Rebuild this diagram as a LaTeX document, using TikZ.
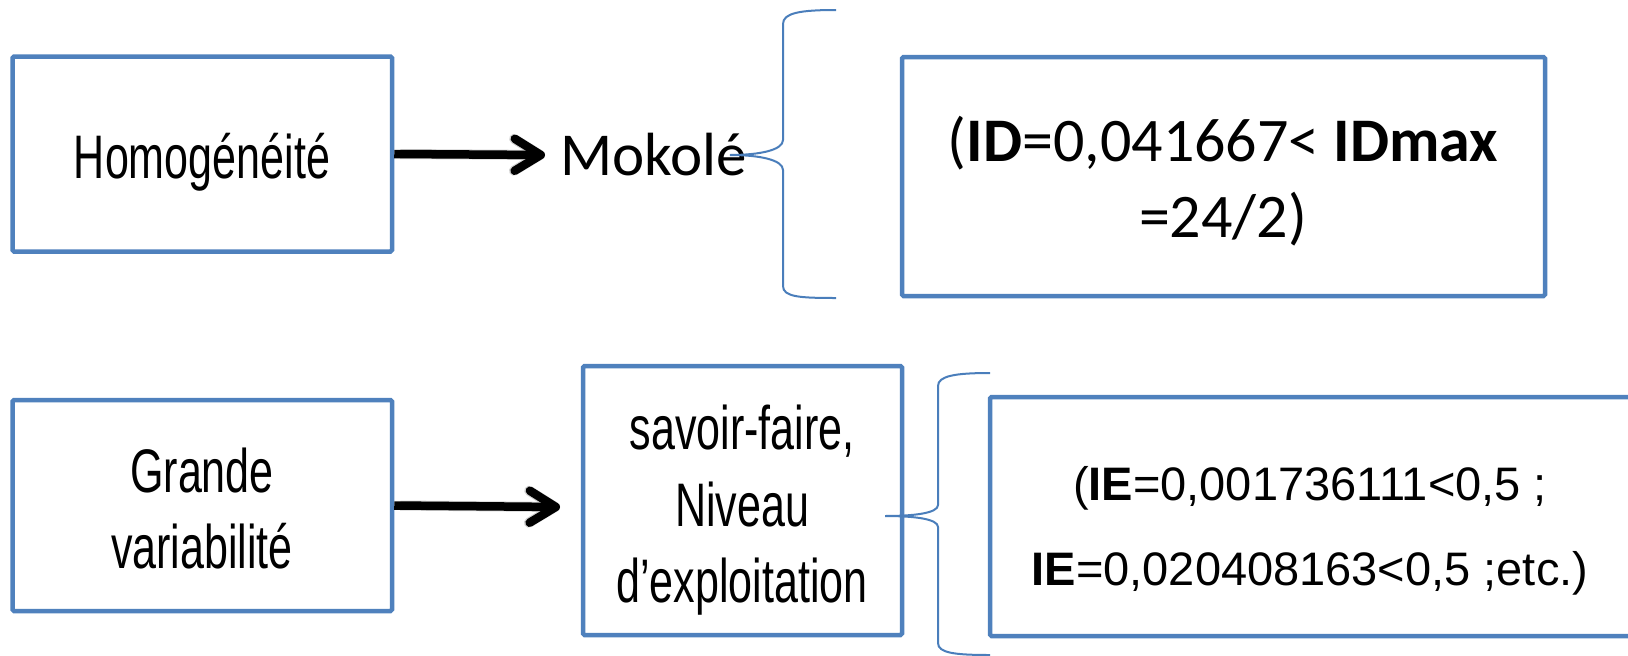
\documentclass[tikz,border=0pt]{standalone}
\usepackage{fontspec}
\usetikzlibrary{arrows.meta}
\newfontfamily\agency[FakeStretch=0.7]{Liberation Sans}
\newfontfamily\calib{Carlito}
\newfontfamily\arialf{Liberation Sans}
\definecolor{boxblue}{HTML}{4F81BD}
\definecolor{braceblue}{HTML}{4A7EBB}
\begin{document}
\begin{tikzpicture}[x=1pt,y=-1pt,
  box/.style={draw=boxblue, line width=4.5pt, fill=white, rounded corners=1.5pt, inner sep=0pt},
  agtxt/.style={anchor=base, inner sep=0pt, font=\agency\fontsize{61.5}{70}\selectfont},
  mok/.style={anchor=base west, inner sep=0pt, font=\calib\fontsize{61}{70}\selectfont},
  idtxt/.style={anchor=base, inner sep=0pt, font=\calib\fontsize{62}{70}\selectfont},
  ietxt/.style={anchor=base, inner sep=0pt, font=\arialf\fontsize{47}{55}\selectfont},
  arr/.style={line width=8.5pt, -{Straight Barb[length=26pt,width=32pt,round]}},
  arrshadow/.style={arr, draw=black!18, line width=10pt, shift={(2pt,-4pt)}},
  brace/.style={draw=braceblue, line width=2pt}
]
\clip (0,0) rectangle (1628,656);
% boxes
\node[box, minimum width=379.5pt, minimum height=195pt] (b1) at (202.25,154) {};
\node[box, minimum width=643pt, minimum height=239pt] (b2) at (1223.5,176.5) {};
\node[box, minimum width=379.5pt, minimum height=211pt] (b3) at (202.25,505.5) {};
\node[box, minimum width=319pt, minimum height=269pt] (b4) at (742.5,500.5) {};
\node[box, minimum width=660pt, minimum height=239pt] (b5) at (1320,516.5) {};
% texts
\node[agtxt] (t1) at (202,178) {Homogénéité};
\node[agtxt] (t3a) at (202,492) {Grande};
\node[agtxt] (t3b) at (202,568) {variabilité};
\node[agtxt] (t4a) at (742,449) {savoir-faire,};
\node[agtxt] (t4b) at (742,526) {Niveau};
\node[agtxt] (t4c) at (742,602) {d’exploitation};
\node[mok] (mk) at (560,175) {Mokolé};
\node[idtxt] (id1) at (1223,161) {(\textbf{ID}=0,041667< \textbf{IDmax}};
\node[idtxt] (id2) at (1223,237) {=24/2)};
\node[ietxt] (ie1) at (1310,500) {(\textbf{IE}=0,001736111<0,5 ;};
\node[ietxt] (ie2) at (1310,585) {\textbf{IE}=0,020408163<0,5 ;etc.)};
% arrows
\coordinate (a1) at (545,155);
\coordinate (a2) at (560,507);
\draw[arrshadow] ([xshift=6pt]b1.east) -- (a1);
\draw[arrshadow] ([xshift=6pt]b3.east) -- (a2);
\draw[arr] (b1.east) -- (a1);
\draw[arr] (b3.east) -- (a2);
% braces
\coordinate (br1) at (730,155);
\coordinate (br2) at (885,516);
\draw[brace] (836,10) .. controls (800,10) and (783,13) .. (783,24) -- (783,140)
  .. controls (783,150) and (760,155) .. (br1)
  .. controls (760,155) and (783,160) .. (783,170) -- (783,286)
  .. controls (783,297) and (800,298) .. (836,298);
\draw[brace] (990,373) .. controls (955,373) and (938,376) .. (938,386) -- (938,505)
  .. controls (938,513) and (915,516) .. (br2)
  .. controls (915,516) and (938,519) .. (938,527) -- (938,643)
  .. controls (938,653) and (955,655) .. (990,655);
\end{tikzpicture}
\end{document}
